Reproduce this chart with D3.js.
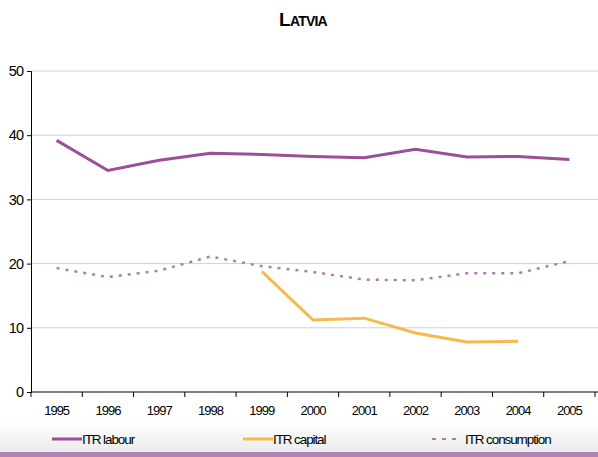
<!DOCTYPE html>
<html>
<head>
<meta charset="utf-8">
<script src="https://cdn.jsdelivr.net/npm/d3@7"></script>
<style>
  body { margin: 0; background: #fff; }
  svg text { font-family: "Liberation Sans", Arial, sans-serif; }
</style>
</head>
<body>
<svg id="chart" width="598" height="457"></svg>
<script>
var years = ["1995","1996","1997","1998","1999","2000","2001","2002","2003","2004","2005"];
var labour = [39.2, 34.5, 36.1, 37.2, 37.0, 36.7, 36.5, 37.8, 36.6, 36.7, 36.2];
var capital = [null, null, null, null, 18.8, 11.2, 11.5, 9.2, 7.8, 7.9, null];
var consumption = [19.3, 17.9, 18.9, 21.1, 19.6, 18.7, 17.5, 17.4, 18.5, 18.5, 20.4];
var yTicks = [0, 10, 20, 30, 40, 50];

var svg = d3.select("#chart"),
    width = +svg.attr("width"),
    height = +svg.attr("height");

var margin = {top: 71, left: 31, right: 3, bottom: 65};

// legend band
var defs = svg.append("defs");
var grad = defs.append("linearGradient").attr("id", "band")
    .attr("x1", 0).attr("y1", 0).attr("x2", 0).attr("y2", 1);
grad.append("stop").attr("offset", "0%").attr("stop-color", "#ffffff");
grad.append("stop").attr("offset", "100%").attr("stop-color", "#ececec");
svg.append("rect").attr("x", 0).attr("y", 420).attr("width", width).attr("height", 32)
    .attr("fill", "url(#band)");
svg.append("rect").attr("x", 0).attr("y", 452).attr("width", width).attr("height", 5)
    .attr("fill", "#b283b6");

var x = d3.scaleBand().domain(years).range([margin.left, width - margin.right]);
var y = d3.scaleLinear().domain([0, 50]).range([height - margin.bottom, margin.top]);

// title
svg.append("text").attr("x", 303).attr("y", 26).attr("text-anchor", "middle")
    .style("font-weight", "bold").style("font-size", "19px").style("letter-spacing", "-0.8px")
    .html('L<tspan style="font-size:14px">ATVIA</tspan>');

// grid
svg.append("g").selectAll("line")
    .data(yTicks.slice(1))
    .enter().append("line")
    .attr("x1", margin.left).attr("x2", width)
    .attr("y1", function(d) { return y(d); })
    .attr("y2", function(d) { return y(d); })
    .attr("stroke", "#d0d0d0").attr("stroke-width", 1);

// axes
var yAxis = svg.append("g")
    .attr("transform", "translate(" + margin.left + ",0)")
    .call(d3.axisLeft(y).tickValues(yTicks).tickSize(4).tickPadding(4));
var xAxis = svg.append("g")
    .attr("transform", "translate(0," + y(0) + ")")
    .call(d3.axisBottom(x).tickSize(0).tickPadding(14));

xAxis.selectAll(".tick line").remove();
// ticks between categories
var bounds = years.map(function(d) { return x(d); }).concat([x.range()[1]]);
xAxis.selectAll(".sep").data(bounds).enter().append("line")
    .attr("x1", function(d) { return d; }).attr("x2", function(d) { return d; })
    .attr("y1", 0).attr("y2", 5).attr("stroke", "#000");

[yAxis, xAxis].forEach(function(a) {
    a.select(".domain").attr("stroke", "#000");
    a.selectAll("text").attr("fill", "#000")
        .style("font-size", "13px").style("letter-spacing", "-1px")
        .style("font-family", "'Liberation Sans', Arial, sans-serif");
});
yAxis.selectAll("text").style("font-size", "14.5px");
xAxis.select(".domain").attr("d", "M" + margin.left + ",0H" + width);

var line = d3.line()
    .defined(function(d) { return d != null; })
    .x(function(d, i) { return x(years[i]) + x.bandwidth() / 2; })
    .y(function(d) { return y(d); });

svg.append("path").datum(consumption)
    .attr("d", line).attr("fill", "none")
    .attr("stroke", "#ad7db1").attr("stroke-width", 2.5)
    .attr("stroke-dasharray", "3,6");

svg.append("path").datum(capital)
    .attr("d", line).attr("fill", "none")
    .attr("stroke", "#f5b94e").attr("stroke-width", 3);

svg.append("path").datum(labour)
    .attr("d", line).attr("fill", "none")
    .attr("stroke", "#9b4f96").attr("stroke-width", 3);

// legend
var legend = [
    {name: "ITR labour", color: "#9b4f96", dash: null, x: 52},
    {name: "ITR capital", color: "#f5b94e", dash: null, x: 243},
    {name: "ITR consumption", color: "#ad7db1", dash: "4,6", x: 432}
];
var lg = svg.append("g").selectAll("g").data(legend).enter().append("g")
    .attr("transform", function(d) { return "translate(" + d.x + ",439)"; });
lg.append("line").attr("x1", 0).attr("x2", 30).attr("y1", 0).attr("y2", 0)
    .attr("stroke", function(d) { return d.color; })
    .attr("stroke-width", function(d) { return d.dash ? 2 : 3; })
    .attr("stroke-dasharray", function(d) { return d.dash; });
lg.append("text").attr("x", function(d) { return d.dash ? 33 : 30; }).attr("y", 5)
    .style("font-size", "13.5px").style("letter-spacing", "-1.1px")
    .text(function(d) { return d.name; });
</script>
</body>
</html>
